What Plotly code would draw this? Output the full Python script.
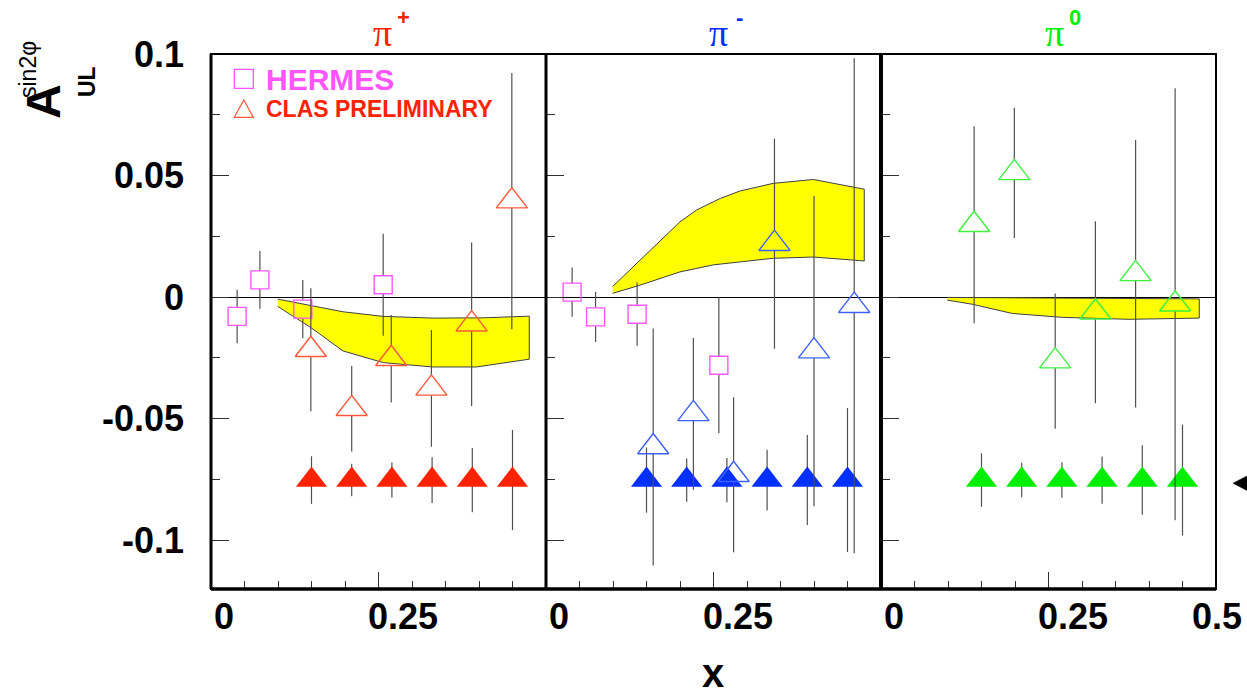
import plotly.graph_objects as go

W, H = 1247, 696

# ---------------- data ----------------
# HERMES (open squares)
hermes_x_pip = [0.039, 0.073, 0.137, 0.257]
hermes_y_pip = [-0.0079, 0.0071, -0.0049, 0.0051]
hermes_e_pip = [0.0110, 0.0119, 0.0120, 0.0210]
hermes_x_pim = [0.039, 0.074, 0.136, 0.258]
hermes_y_pim = [0.0021, -0.0081, -0.0070, -0.0280]
hermes_e_pim = [0.0101, 0.0103, 0.0130, 0.0280]

# CLAS preliminary (open triangles)
clas_x_pip = [0.149, 0.210, 0.269, 0.329, 0.389, 0.449]
clas_y_pip = [-0.0216, -0.0459, -0.0253, -0.0375, -0.0111, 0.0395]
clas_e_pip = [0.0253, 0.0176, 0.0180, 0.0240, 0.0336, 0.0527]
clas_x_pim = [0.160, 0.220, 0.280, 0.341, 0.400, 0.460]
clas_y_pim = [-0.0616, -0.0480, -0.0730, 0.0220, -0.0222, -0.0035]
clas_e_pim = [0.0487, 0.0312, 0.0319, 0.0432, 0.0638, 0.1018]
clas_x_pi0 = [0.139, 0.199, 0.260, 0.320, 0.380, 0.439]
clas_y_pi0 = [0.0298, 0.0511, -0.0263, -0.0062, 0.0096, -0.0029]
clas_e_pi0 = [0.0405, 0.0268, 0.0278, 0.0374, 0.0550, 0.0888]

# projected errors (filled triangles)
proj_x = [0.150, 0.210, 0.270, 0.330, 0.390, 0.450]
proj_y = [-0.0752, -0.0752, -0.0752, -0.0752, -0.0752, -0.0752]
proj_e_pip = [0.0098, 0.0067, 0.0072, 0.0094, 0.0132, 0.0206]
proj_e_pim = [0.0134, 0.0089, 0.0091, 0.0125, 0.0185, 0.0296]
proj_e_pi0 = [0.0110, 0.0071, 0.0073, 0.0097, 0.0143, 0.0228]

# model bands (upper / lower edges)
band_x_up_pip = [0.0996, 0.148, 0.197, 0.257, 0.331, 0.406, 0.475]
band_y_up_pip = [-0.0008, -0.0033, -0.0060, -0.0079, -0.0086, -0.0085, -0.0078]
band_x_lo_pip = [0.0996, 0.148, 0.197, 0.257, 0.331, 0.396, 0.475]
band_y_lo_pip = [-0.0038, -0.0123, -0.0221, -0.0269, -0.0287, -0.0287, -0.0255]

band_x_up_pim = [0.0995, 0.200, 0.225, 0.260, 0.290, 0.339, 0.399, 0.475]
band_y_up_pim = [0.0044, 0.0310, 0.0359, 0.0406, 0.0437, 0.0468, 0.0484, 0.0444]
band_x_lo_pim = [0.0995, 0.140, 0.200, 0.250, 0.290, 0.339, 0.399, 0.475]
band_y_lo_pim = [0.0016, 0.0049, 0.0104, 0.0133, 0.0145, 0.0160, 0.0165, 0.0149]

band_x_up_pi0 = [0.099, 0.475]
band_y_up_pi0 = [-0.0001, -0.0007]
band_x_lo_pi0 = [0.099, 0.136, 0.196, 0.271, 0.370, 0.475]
band_y_lo_pi0 = [-0.0012, -0.0029, -0.0067, -0.0083, -0.0091, -0.0086]

# pointer outside the right edge of the pi0 panel (in pi0-panel data units)
arrow_x = [0.535]
arrow_y = [-0.0765]

panel_titles = ["+", "-", "0"]
x_tick_labels = ["0", "0.25", "0.5"]
x_tick_vals = [0.0, 0.25, 0.5]
y_tick_vals = [-0.1, -0.05, 0.0, 0.05, 0.1]
y_tick_text = ["-0.1", "-0.05", "0", "0.05", "0.1"]

# ---------------- styles ----------------
RED, RED_O = "#ff2200", "#ff5a3c"
BLUE, BLUE_O = "#0030ff", "#4060ff"
GREEN, GREEN_O = "#00ee00", "#40f040"
PINK = "#ff55ff"
ERR = "#505050"
FONT = "Liberation Sans"

Y_RANGE = [-0.12, 0.1]
X_RANGE = [0.0, 0.5]
PX_LEFT = [211, 546, 881]
PANEL_W = 335
PLOT_TOP, PLOT_BOT = 54, 589
DPP = (Y_RANGE[1] - Y_RANGE[0]) / (PLOT_BOT - PLOT_TOP)  # data units per pixel

TRI = 27
SQ = 18


def px(x):
    return x / W


def py(y):
    return 1 - y / H


def gapped(xs, ys, es, gap_up, gap_dn):
    sx, sy = [], []
    for x, y, e in zip(xs, ys, es):
        a = y + gap_up * DPP
        if y + e > a:
            sx += [x, x, None]
            sy += [a, y + e, None]
        b = y - gap_dn * DPP
        if y - e < b:
            sx += [x, x, None]
            sy += [b, y - e, None]
    return sx, sy


fig = go.Figure()

panels = [
    dict(band=(band_x_up_pip, band_y_up_pip, band_x_lo_pip, band_y_lo_pip),
         hermes=(hermes_x_pip, hermes_y_pip, hermes_e_pip),
         clas=(clas_x_pip, clas_y_pip, clas_e_pip), proj=proj_e_pip,
         c=RED, co=RED_O),
    dict(band=(band_x_up_pim, band_y_up_pim, band_x_lo_pim, band_y_lo_pim),
         hermes=(hermes_x_pim, hermes_y_pim, hermes_e_pim),
         clas=(clas_x_pim, clas_y_pim, clas_e_pim), proj=proj_e_pim,
         c=BLUE, co=BLUE_O),
    dict(band=(band_x_up_pi0, band_y_up_pi0, band_x_lo_pi0, band_y_lo_pi0),
         hermes=None,
         clas=(clas_x_pi0, clas_y_pi0, clas_e_pi0), proj=proj_e_pi0,
         c=GREEN, co=GREEN_O),
]

for i, p in enumerate(panels):
    xa = "x" if i == 0 else f"x{i+1}"
    ya = "y" if i == 0 else f"y{i+1}"
    xu, yu, xl, yl = p["band"]
    fig.add_trace(go.Scatter(x=list(xu) + list(xl)[::-1], y=list(yu) + list(yl)[::-1],
                             fill="toself", fillcolor="#ffff00", mode="lines",
                             line=dict(color="#404040", width=1), xaxis=xa, yaxis=ya,
                             showlegend=False, hoverinfo="skip"))
    # filled triangles with errors
    fig.add_trace(go.Scatter(x=proj_x, y=proj_y, mode="markers", xaxis=xa, yaxis=ya,
                             error_y=dict(type="data", array=p["proj"], width=0,
                                          thickness=1.2, color=ERR),
                             marker=dict(symbol="triangle-up", size=TRI, color=p["c"],
                                         line=dict(width=0)),
                             showlegend=False))
    if p["hermes"]:
        hx, hy, he = p["hermes"]
        sx, sy = gapped(hx, hy, he, SQ / 2, SQ / 2)
        fig.add_trace(go.Scatter(x=sx, y=sy, mode="lines", xaxis=xa, yaxis=ya,
                                 line=dict(color=ERR, width=1.2), showlegend=False,
                                 hoverinfo="skip"))
        fig.add_trace(go.Scatter(x=hx, y=hy, mode="markers", xaxis=xa, yaxis=ya,
                                 marker=dict(symbol="square-open", size=SQ, color=PINK,
                                             line=dict(width=1.4, color=PINK)),
                                 showlegend=False))
    cx, cy, ce = p["clas"]
    sx, sy = gapped(cx, cy, ce, TRI / 2, TRI / 4)
    fig.add_trace(go.Scatter(x=sx, y=sy, mode="lines", xaxis=xa, yaxis=ya,
                             line=dict(color=ERR, width=1.2), showlegend=False,
                             hoverinfo="skip"))
    fig.add_trace(go.Scatter(x=cx, y=cy, mode="markers", xaxis=xa, yaxis=ya,
                             marker=dict(symbol="triangle-up-open", size=TRI, color=p["co"],
                                         line=dict(width=1.4, color=p["co"])),
                             showlegend=False))

layout = dict(width=W, height=H, margin=dict(l=0, r=0, t=0, b=0, autoexpand=False),
              paper_bgcolor="white", plot_bgcolor="white", showlegend=False)
shapes = []
annotations = []
ydom = [1 - PLOT_BOT / H, 1 - PLOT_TOP / H]
for i in range(3):
    k = "" if i == 0 else str(i + 1)
    dom = [px(PX_LEFT[i]), px(PX_LEFT[i] + PANEL_W)]
    layout["xaxis" + k] = dict(domain=dom, range=X_RANGE, anchor="y" + k, automargin=False,
                               showgrid=False, zeroline=False, showline=False,
                               ticks="inside", tickvals=[0.25], ticklen=17,
                               tickcolor="#303030", tickwidth=1, showticklabels=False,
                               minor=dict(ticks="inside", dtick=0.05, tick0=0, ticklen=8,
                                          tickcolor="#303030", tickwidth=1))
    layout["yaxis" + k] = dict(domain=ydom, range=Y_RANGE, anchor="x" + k, automargin=False,
                               showgrid=False, zeroline=True, zerolinecolor="black",
                               zerolinewidth=1, showline=False,
                               ticks="inside", tickvals=y_tick_vals, ticktext=y_tick_text,
                               ticklen=18, tickcolor="#303030", tickwidth=1,
                               showticklabels=(i == 0),
                               tickfont=dict(family=FONT, size=36, color="black",
                                             weight="bold"),
                               ticklabelstandoff=26,
                               minor=dict(ticks="inside", dtick=0.025, tick0=0, ticklen=9,
                                          tickcolor="#303030", tickwidth=1))
    xd = f"x{k} domain"
    yd = f"y{k} domain"
    shapes.append(dict(type="rect", xref=xd, yref=yd, x0=0, x1=1, y0=0, y1=1,
                       line=dict(color="black", width=2), layer="above"))
    shapes.append(dict(type="line", xref=xd, yref=yd, x0=0, x1=1, y0=0, y1=0,
                       line=dict(color="black", width=3.5), layer="above"))
    shapes.append(dict(type="line", xref=xd, yref=yd, x0=0, x1=0, y0=0, y1=1,
                       line=dict(color="black", width=3), layer="above"))
    # x tick labels
    lefts = [PX_LEFT[i] + 0.7, PX_LEFT[i] + 167.5 - 12.5, PX_LEFT[i] + PANEL_W - 26]
    for j, (v, t) in enumerate(zip(x_tick_vals, x_tick_labels)):
        if i < 2 and j == 2:
            continue
        xoff = lefts[j] - (PX_LEFT[i] + v / X_RANGE[1] * PANEL_W)
        annotations.append(dict(x=v, y=py(616), xref="x" + k, yref="paper",
                                text=t, showarrow=False, xanchor="left", yanchor="middle",
                                xshift=xoff,
                                font=dict(family=FONT, size=36, color="black", weight="bold")))

shapes.append(dict(type="line", xref="x2 domain", yref="y2 domain", x0=1, x1=1, y0=0, y1=1,
                   line=dict(color="black", width=4), layer="above"))

# pointer triangle: pi0-panel data position mapped to paper, sized in pixels
for ax_, ay_ in zip(arrow_x, arrow_y):
    pxx = PX_LEFT[2] + (ax_ - X_RANGE[0]) / (X_RANGE[1] - X_RANGE[0]) * PANEL_W
    pyy = PLOT_TOP + (Y_RANGE[1] - ay_) / DPP
    shapes.append(dict(type="path", xref="paper", yref="paper", xsizemode="pixel",
                       ysizemode="pixel", xanchor=px(pxx), yanchor=py(pyy),
                       path="M-6.5,0 L8,7.5 L8,-7.5 Z", fillcolor="black",
                       line=dict(color="black", width=0.5), layer="above"))

# panel titles
tcols = [RED, BLUE, GREEN]
pi_x = [382.5, 718.3, 1054.0]
for i in range(3):
    annotations.append(dict(x=px(pi_x[i]), y=py(33), xref="paper", yref="paper",
                            text="π", showarrow=False, xanchor="center", yanchor="middle",
                            font=dict(family="Liberation Serif", size=38, color=tcols[i])))
    annotations.append(dict(x=px(pi_x[i] + 21), y=py(17), xref="paper", yref="paper",
                            text=panel_titles[i], showarrow=False, xanchor="center",
                            yanchor="middle",
                            font=dict(family=FONT, size=22, color=tcols[i], weight="bold")))

# legend
shapes.append(dict(type="rect", xref="paper", yref="paper", x0=px(234.3), x1=px(253.3),
                   y0=py(88.3), y1=py(69.3), line=dict(color=PINK, width=1.3)))
shapes.append(dict(type="path", xref="paper", yref="paper",
                   path=f"M{px(243.8)},{py(100)} L{px(253.3)},{py(117.3)} L{px(234.3)},{py(117.3)} Z",
                   line=dict(color=RED_O, width=1.3)))
annotations.append(dict(x=px(264), y=py(79), xref="paper", yref="paper", text="HERMES",
                        showarrow=False, xanchor="left", yanchor="middle",
                        font=dict(family=FONT, size=30, color=PINK, weight="bold")))
annotations.append(dict(x=px(264), y=py(108.5), xref="paper", yref="paper",
                        text="CLAS PRELIMINARY", showarrow=False, xanchor="left",
                        yanchor="middle",
                        font=dict(family=FONT, size=23, color=RED, weight="bold")))

# axis titles
annotations.append(dict(x=px(713), y=0, xref="paper", yref="paper", text="x",
                        showarrow=False, xanchor="center", yanchor="bottom", borderpad=0,
                        font=dict(family=FONT, size=40, color="black", weight="bold")))
annotations.append(dict(x=px(43), y=py(102), xref="paper", yref="paper", text="A",
                        showarrow=False, textangle=-90, xanchor="center", yanchor="middle",
                        font=dict(family=FONT, size=48, color="black", weight="bold")))
annotations.append(dict(x=px(28), y=py(70), xref="paper", yref="paper", text="sin2φ",
                        showarrow=False, textangle=-90, xanchor="center", yanchor="middle",
                        font=dict(family=FONT, size=23, color="black")))
annotations.append(dict(x=px(87), y=py(82), xref="paper", yref="paper", text="UL",
                        showarrow=False, textangle=-90, xanchor="center", yanchor="middle",
                        font=dict(family=FONT, size=23, color="black", weight="bold")))

layout["shapes"] = shapes
layout["annotations"] = annotations
fig.update_layout(**layout)
fig.write_html("out.html")
